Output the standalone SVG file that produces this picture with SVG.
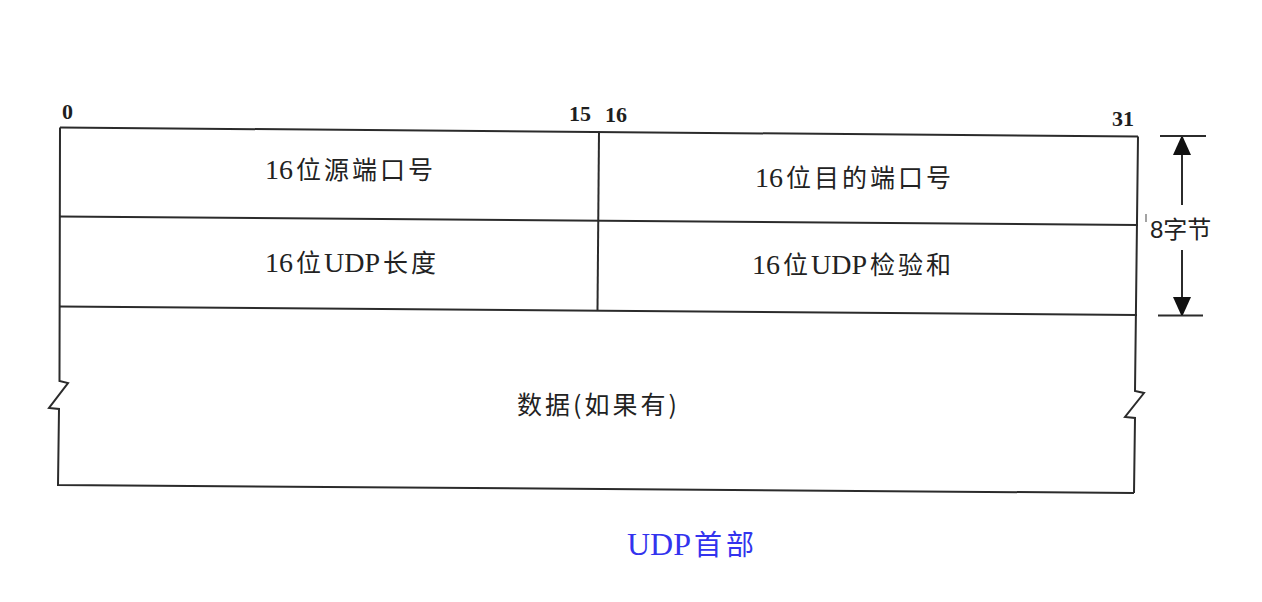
<svg xmlns="http://www.w3.org/2000/svg" width="1262" height="602" viewBox="0 0 1262 602">
<style>
.ln{fill:none;stroke:#2b2b2b;stroke-width:2;stroke-linejoin:miter}
.bit{font-family:"Liberation Serif","Noto Sans CJK SC",serif;font-weight:bold;font-size:22px;fill:#1e1e1e}
.fld{font-family:"Liberation Serif","Noto Sans CJK SC",serif;font-size:28px;fill:#222}
.cj{font-family:"Noto Sans CJK SC",sans-serif;font-size:25px;letter-spacing:3px}
.dat{font-family:"Noto Sans CJK SC",sans-serif;font-size:25px;letter-spacing:3px;fill:#222}
.cap{font-family:"Liberation Serif","Noto Sans CJK SC",serif;font-size:32px;fill:#3333ee}
.capcj{font-family:"Noto Sans CJK SC",sans-serif;font-size:28px;letter-spacing:4px}
.sz{font-family:"Liberation Sans","Noto Sans CJK SC",sans-serif;font-size:24px;fill:#222}
</style>
<defs>
<marker id="ah" markerUnits="userSpaceOnUse" markerWidth="18" markerHeight="22" viewBox="0 0 18 22" refX="18" refY="9" orient="auto">
<path d="M0,0 L20,9 L0,18 Z" fill="#111"/>
</marker>
</defs>
<rect width="1262" height="602" fill="#fff"/>

<g id="bit-labels">
<text class="bit" x="62" y="119">0</text>
<text class="bit" x="569" y="121">15</text>
<text class="bit" x="605" y="122">16</text>
<text class="bit" x="1112" y="126">31</text>
</g>

<g id="frame">
<polyline class="ln" points="60,127.5 1138,136.5"/>
<polyline class="ln" points="60,127.5 59.5,381 68,383 49,408 59,409 58,485 1134,493"/>
<polyline class="ln" points="1138,136.5 1135,391 1144,393 1125,417 1135,418 1134,493"/>
<polyline class="ln" points="59,216.5 1138,225"/>
<polyline class="ln" points="59,306.5 1137,315"/>
<polyline class="ln" points="599,131.5 597.5,310.5"/>
</g>

<g id="src-port"><text class="fld" x="265" y="179">16<tspan class="cj" dx="3">位源端口号</tspan></text></g>
<g id="dst-port"><text class="fld" x="755" y="187">16<tspan class="cj" dx="3">位目的端口号</tspan></text></g>
<g id="udp-length"><text class="fld" x="265" y="272">16<tspan class="cj" dx="3">位</tspan>UDP<tspan class="cj" dx="3">长度</tspan></text></g>
<g id="udp-checksum"><text class="fld" x="752" y="274">16<tspan class="cj" dx="3">位</tspan>UDP<tspan class="cj" dx="3">检验和</tspan></text></g>
<g id="data"><text class="dat" x="517" y="414">数据(如果有)</text></g>

<g id="size-label">
<line x1="1146" y1="214" x2="1146" y2="222" stroke="#666" stroke-width="1.2"/>
<text class="sz" x="1150" y="238">8字节</text>
</g>

<g id="connectors">
<line class="ln" x1="1160" y1="136" x2="1206" y2="136"/>
<line class="ln" x1="1158" y1="315.5" x2="1203" y2="315.5"/>
<line class="ln" x1="1182" y1="205" x2="1182" y2="137" marker-end="url(#ah)"/>
<line class="ln" x1="1182" y1="250" x2="1182" y2="315" marker-end="url(#ah)"/>
</g>

<g id="caption"><text class="cap" x="627" y="555">UDP<tspan class="capcj" dx="3">首部</tspan></text></g>
</svg>
